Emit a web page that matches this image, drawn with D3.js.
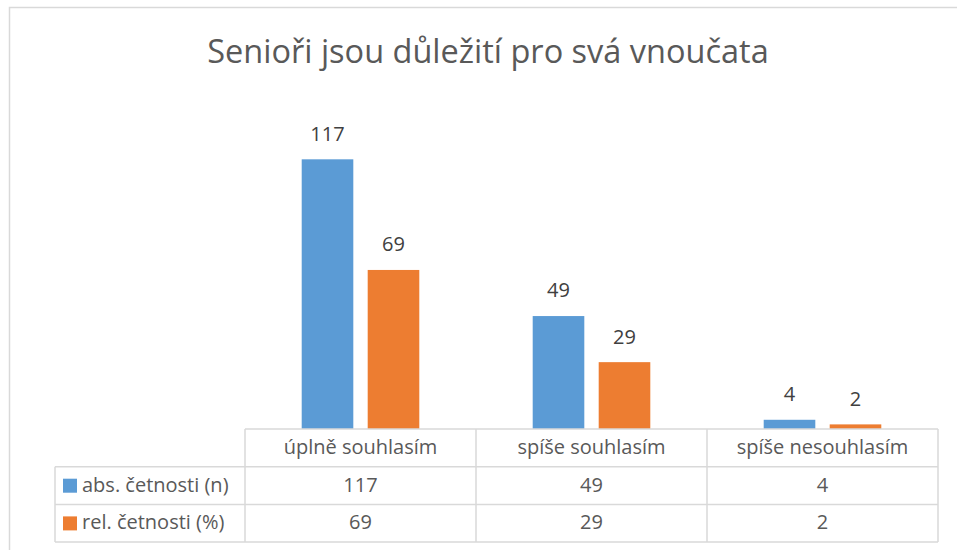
<!DOCTYPE html>
<meta charset="utf-8">
<style>
body { margin: 0; background: #fff; }
text { font-family: "Open Sans", sans-serif; }
.title { font-size: 32.5px; fill: #595959; }
.label { font-size: 20px; fill: #404040; }
.cell { font-size: 20px; fill: #595959; }
.grid line { stroke: #d9d9d9; stroke-width: 1.5px; }
</style>
<svg width="957" height="550"></svg>
<script src="https://d3js.org/d3.v7.min.js"></script>
<script>

var categories = ["úplně souhlasím", "spíše souhlasím", "spíše nesouhlasím"];
var seriesNames = ["abs. četnosti (n)", "rel. četnosti (%)"];
var absValues = [117, 49, 4];
var relValues = [69, 29, 2];
var colors = ["#5b9bd5", "#ed7d31"];

var svg = d3.select("svg");

// chart frame
svg.append("rect")
    .attr("x", 9.5).attr("y", 7.5)
    .attr("width", 1000).attr("height", 600)
    .attr("fill", "none").attr("stroke", "#d9d9d9").attr("stroke-width", 1.5);

svg.append("text")
    .attr("class", "title")
    .attr("x", 488).attr("y", 63)
    .attr("text-anchor", "middle")
    .text("Senioři jsou důležití pro svá vnoučata");

var tableLeft = 55, plotLeft = 245, plotRight = 938,
    baseY = 429, rowH = 37.7;

var x0 = d3.scaleBand().domain(categories).range([plotLeft, plotRight]);
var x1 = d3.scaleBand().domain(seriesNames)
    .range([56.7, x0.bandwidth() - 56.7]).paddingInner(0.218);
var y = d3.scaleLinear().domain([0, 140]).range([baseY, 106.3]);

var rows = categories.map(function(c, i) {
  return {cat: c, vals: [absValues[i], relValues[i]]};
});

var groups = svg.append("g").selectAll("g")
    .data(rows).enter().append("g")
    .attr("transform", function(d) { return "translate(" + x0(d.cat) + ",0)"; });

groups.selectAll("rect")
    .data(function(d) { return d.vals.map(function(v, j) { return {s: seriesNames[j], v: v, j: j}; }); })
    .enter().append("rect")
    .attr("x", function(d) { return x1(d.s); })
    .attr("width", x1.bandwidth())
    .attr("y", function(d) { return y(d.v); })
    .attr("height", function(d) { return baseY - y(d.v); })
    .attr("fill", function(d) { return colors[d.j]; });

groups.selectAll("text")
    .data(function(d) { return d.vals.map(function(v, j) { return {s: seriesNames[j], v: v}; }); })
    .enter().append("text")
    .attr("class", "label")
    .attr("x", function(d) { return x1(d.s) + x1.bandwidth() / 2; })
    .attr("y", function(d) { return y(d.v) - 18.6; })
    .attr("text-anchor", "middle")
    .text(function(d) { return d.v; });

// data table
var grid = svg.append("g").attr("class", "grid");
var bottomY = baseY + 3 * rowH;
[0, 1, 2, 3].forEach(function(r) {
  grid.append("line")
      .attr("x1", r === 0 ? plotLeft : tableLeft).attr("x2", plotRight)
      .attr("y1", baseY + r * rowH).attr("y2", baseY + r * rowH);
});
grid.append("line").attr("x1", tableLeft).attr("x2", tableLeft)
    .attr("y1", baseY + rowH).attr("y2", bottomY);
categories.concat([null]).forEach(function(c) {
  var xx = c === null ? plotRight : x0(c);
  grid.append("line").attr("x1", xx).attr("x2", xx)
      .attr("y1", baseY).attr("y2", bottomY);
});

categories.forEach(function(c) {
  svg.append("text").attr("class", "cell")
      .attr("x", x0(c) + x0.bandwidth() / 2).attr("y", baseY + 25)
      .attr("text-anchor", "middle").text(c);
});

rows.forEach(function(d) {
  d.vals.forEach(function(v, j) {
    svg.append("text").attr("class", "cell")
        .attr("x", x0(d.cat) + x0.bandwidth() / 2)
        .attr("y", baseY + (j + 1) * rowH + 25)
        .attr("text-anchor", "middle").text(v);
  });
});

seriesNames.forEach(function(s, j) {
  var ry = baseY + (j + 1) * rowH;
  svg.append("rect")
      .attr("x", 63).attr("y", ry + 12)
      .attr("width", 14).attr("height", 14)
      .attr("fill", colors[j]);
  svg.append("text").attr("class", "cell")
      .attr("x", 82).attr("y", ry + 25)
      .text(s);
});
</script>
